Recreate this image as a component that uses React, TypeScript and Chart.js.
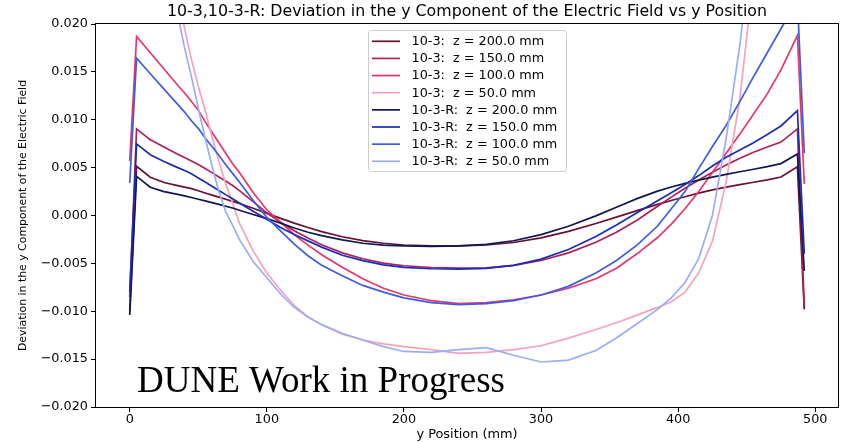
import React, { useEffect, useRef } from "react";
import { Chart, registerables } from "chart.js";

Chart.register(...registerables);

// y position along the field cage (mm)
const yPositionMm = [0, 5, 15, 25, 35, 40, 45, 50, 55, 60, 65, 70, 75, 80, 90, 100, 110, 120, 130, 140, 155, 170, 185, 200, 220, 240, 260, 280, 300, 320, 340, 355, 370, 385, 395, 405, 415, 425, 435, 445, 455, 465, 475, 487, 492];

// 10-3 series
const dev103z200 = [-0.0100, 0.00514, 0.00400, 0.00345, 0.00312, 0.00296, 0.00280, 0.00258, 0.00235, 0.00213, 0.00192, 0.00170, 0.00148, 0.00125, 0.00075, 0.00022, -0.00030, -0.00080, -0.00125, -0.00168, -0.00222, -0.00262, -0.00290, -0.00308, -0.00318, -0.00318, -0.00308, -0.00282, -0.00234, -0.00166, -0.00084, -0.00017, 0.00051, 0.00116, 0.00157, 0.00196, 0.00233, 0.00267, 0.00297, 0.00323, 0.00347, 0.00372, 0.00402, 0.00510, -0.0098];
const dev103z150 = [-0.0085, 0.00905, 0.00790, 0.00715, 0.00640, 0.00605, 0.00570, 0.00532, 0.00490, 0.00448, 0.00403, 0.00360, 0.00313, 0.00260, 0.00145, 0.00028, -0.00070, -0.00160, -0.00235, -0.00305, -0.00390, -0.00452, -0.00497, -0.00525, -0.00543, -0.00550, -0.00546, -0.00520, -0.00470, -0.00390, -0.00280, -0.00175, -0.00050, 0.00097, 0.00192, 0.00284, 0.00370, 0.00452, 0.00528, 0.00598, 0.00660, 0.00715, 0.00767, 0.00905, -0.0095];
const dev103z100 = [0.0057, 0.0187, 0.0170, 0.0153, 0.0136, 0.0128, 0.0119, 0.0110, 0.0098, 0.0087, 0.0076, 0.0065, 0.0054, 0.0045, 0.0024, 0.0006, -0.0007, -0.0020, -0.0031, -0.0041, -0.0054, -0.0066, -0.0076, -0.0083, -0.0089, -0.0092, -0.0091, -0.0088, -0.0083, -0.0076, -0.0066, -0.0055, -0.0040, -0.0023, -0.0009, 0.0007, 0.0025, 0.0045, 0.0065, 0.0085, 0.0106, 0.0127, 0.0152, 0.0188, 0.0033];
const dev103z50 = [0.030, 0.065, 0.050, 0.036, 0.0232, 0.0195, 0.0163, 0.0135, 0.0110, 0.0082, 0.0057, 0.0033, 0.0013, -0.0008, -0.0037, -0.0060, -0.0078, -0.0094, -0.0106, -0.0114, -0.0124, -0.0130, -0.0134, -0.0137, -0.0140, -0.0144, -0.0143, -0.0140, -0.0136, -0.0128, -0.0119, -0.0112, -0.0104, -0.0096, -0.0090, -0.0080, -0.0060, -0.0027, 0.0035, 0.0122, 0.0250, 0.040, 0.055, 0.065, 0.030];

// 10-3-R series
const dev103Rz200 = [-0.0104, 0.00409, 0.00295, 0.00250, 0.00220, 0.00205, 0.00188, 0.00170, 0.00152, 0.00134, 0.00116, 0.00097, 0.00078, 0.00055, 0.00010, -0.00032, -0.00080, -0.00130, -0.00175, -0.00210, -0.00255, -0.00290, -0.00310, -0.00318, -0.00322, -0.00318, -0.00302, -0.00264, -0.00200, -0.00112, -0.00004, 0.00086, 0.00176, 0.00254, 0.00298, 0.00336, 0.00370, 0.00401, 0.00430, 0.00457, 0.00483, 0.00510, 0.00542, 0.00643, -0.0058];
const dev103Rz150 = [-0.0080, 0.00748, 0.00635, 0.00565, 0.00500, 0.00470, 0.00435, 0.00392, 0.00350, 0.00305, 0.00262, 0.00218, 0.00175, 0.00130, 0.00045, -0.00040, -0.00125, -0.00198, -0.00265, -0.00330, -0.00415, -0.00472, -0.00515, -0.00542, -0.00556, -0.00560, -0.00552, -0.00520, -0.00456, -0.00356, -0.00220, -0.00100, 0.00029, 0.00155, 0.00237, 0.00323, 0.00417, 0.00517, 0.00609, 0.00685, 0.00761, 0.00845, 0.00935, 0.01096, -0.0040];
const dev103Rz100 = [0.0034, 0.01643, 0.0148, 0.0132, 0.0116, 0.0108, 0.0099, 0.0091, 0.0081, 0.0072, 0.0063, 0.0053, 0.0044, 0.0035, 0.0016, -0.0002, -0.0016, -0.0030, -0.0042, -0.0052, -0.0063, -0.0073, -0.0080, -0.0086, -0.0091, -0.0093, -0.0092, -0.0089, -0.0083, -0.0074, -0.0060, -0.0047, -0.0031, -0.0011, 0.0007, 0.0025, 0.0049, 0.0072, 0.0094, 0.0119, 0.0145, 0.0170, 0.0195, 0.0225, 0.0065];
const dev103Rz50 = [0.030, 0.065, 0.048, 0.033, 0.021, 0.0175, 0.0145, 0.0112, 0.0081, 0.0052, 0.0025, 0.0004, -0.0010, -0.0025, -0.0048, -0.0065, -0.0082, -0.0096, -0.0106, -0.0114, -0.0123, -0.0130, -0.0137, -0.0142, -0.0143, -0.0140, -0.0138, -0.0146, -0.0153, -0.0151, -0.0141, -0.0128, -0.0113, -0.0098, -0.0086, -0.0070, -0.0045, 0.0000, 0.0080, 0.0178, 0.030, 0.045, 0.058, 0.065, 0.030];

const seriesLabels = [
  "10-3:  z = 200.0 mm",
  "10-3:  z = 150.0 mm",
  "10-3:  z = 100.0 mm",
  "10-3:  z = 50.0 mm",
  "10-3-R:  z = 200.0 mm",
  "10-3-R:  z = 150.0 mm",
  "10-3-R:  z = 100.0 mm",
  "10-3-R:  z = 50.0 mm",
];
const seriesColors = ["#6b1034", "#b01e5c", "#ea346c", "#f6a2ba", "#0f1852", "#1b2cb4", "#3e5ce0", "#9badf6"];

const xTickValues = [0, 100, 200, 300, 400, 500];
const yTickValues = [-0.02, -0.015, -0.01, -0.005, 0, 0.005, 0.01, 0.015, 0.02];

const titleText = "10-3,10-3-R: Deviation in the y Component of the Electric Field vs y Position";
const xAxisTitle = "y Position (mm)";
const yAxisTitle = "Deviation in the y Component of the Electric Field";
const watermarkText = "DUNE Work in Progress";

const W = 844;
const H = 442;
const SANS = '"DejaVu Sans", "Liberation Sans", sans-serif';
const SERIF = '"Liberation Serif", "Times New Roman", serif';

export default function App() {
  const ref = useRef<HTMLCanvasElement>(null);

  useEffect(() => {
    const canvas = ref.current;
    if (!canvas) return;
    const series = [dev103z200, dev103z150, dev103z100, dev103z50, dev103Rz200, dev103Rz150, dev103Rz100, dev103Rz50];

    const overlay = {
      id: "overlay",
      afterDatasetsDraw(chart: any) {
        const { ctx, chartArea: a } = chart;
        ctx.save();
        ctx.strokeStyle = "#000";
        ctx.lineWidth = 1;
        const l = Math.round(a.left) - 0.5;
        const t = Math.round(a.top) - 0.5;
        const r = Math.round(a.right) + 0.5;
        const b = Math.round(a.bottom) + 0.5;
        ctx.strokeRect(l, t, r - l, b - t);
        ctx.restore();
      },
      afterDraw(chart: any) {
        const { ctx, chartArea: a } = chart;
        ctx.save();
        // title
        ctx.fillStyle = "#000";
        ctx.font = `15.8px ${SANS}`;
        ctx.textAlign = "center";
        ctx.textBaseline = "middle";
        ctx.fillText(titleText, (a.left + a.right) / 2, 12);

        // watermark
        ctx.font = `37px ${SERIF}`;
        ctx.textAlign = "left";
        ctx.textBaseline = "alphabetic";
        ctx.fillText(watermarkText, 137, 392);

        // legend
        const bx = 368.5, by = 30.5, bw = 198, bh = 141;
        ctx.beginPath();
        if ((ctx as any).roundRect) (ctx as any).roundRect(bx, by, bw, bh, 3);
        else ctx.rect(bx, by, bw, bh);
        ctx.fillStyle = "rgba(255,255,255,0.8)";
        ctx.fill();
        ctx.strokeStyle = "#cccccc";
        ctx.lineWidth = 1;
        ctx.stroke();
        ctx.font = `12.8px ${SANS}`;
        ctx.textBaseline = "middle";
        ctx.textAlign = "left";
        for (let i = 0; i < seriesLabels.length; i++) {
          const yc = 41.3 + i * 17.14;
          ctx.strokeStyle = seriesColors[i];
          ctx.lineWidth = 1.7;
          ctx.beginPath();
          ctx.moveTo(372, yc);
          ctx.lineTo(400, yc);
          ctx.stroke();
          ctx.fillStyle = "#000";
          ctx.fillText(seriesLabels[i], 411.5, yc + 0.5);
        }
        ctx.restore();
      },
    };

    const chart = new Chart(canvas, {
      type: "line",
      data: {
        datasets: series.map((vals, i) => ({
          label: seriesLabels[i],
          data: yPositionMm.map((x, j) => ({ x, y: vals[j] })),
          borderColor: seriesColors[i],
          backgroundColor: seriesColors[i],
          borderWidth: 1.7,
          pointRadius: 0,
          pointHoverRadius: 0,
          fill: false,
          tension: 0,
          order: series.length - 1 - i,
        })),
      },
      options: {
        animation: false,
        responsive: false,
        devicePixelRatio: 1,
        events: [],
        layout: { padding: { left: 0, right: 6, top: 24, bottom: 0 } },
        plugins: {
          legend: { display: false },
          title: { display: false },
          tooltip: { enabled: false },
        },
        scales: {
          x: {
            type: "linear",
            min: -24.6,
            max: 516.6,
            afterBuildTicks: (s: any) => {
              s.ticks = xTickValues.map((value) => ({ value }));
            },
            afterFit: (s: any) => {
              s.height = 35;
            },
            grid: { drawOnChartArea: false, drawTicks: true, tickLength: 5, tickColor: "#000", tickWidth: 1 },
            border: { display: false },
            ticks: {
              color: "#000",
              font: { family: SANS, size: 12.8 },
              padding: 0,
              maxRotation: 0,
              autoSkip: false,
              callback: (v: any) => String(v),
            },
            title: {
              display: true,
              text: xAxisTitle,
              color: "#000",
              font: { family: SANS, size: 12.9 },
              padding: { top: 0, bottom: 0 },
            },
          },
          y: {
            type: "linear",
            min: -0.02,
            max: 0.02,
            afterBuildTicks: (s: any) => {
              s.ticks = yTickValues.map((value) => ({ value }));
            },
            afterFit: (s: any) => {
              s.width = 96;
            },
            grid: { drawOnChartArea: false, drawTicks: true, tickLength: 5, tickColor: "#000", tickWidth: 1 },
            border: { display: false },
            ticks: {
              color: "#000",
              font: { family: SANS, size: 12.8 },
              padding: 3,
              autoSkip: false,
              callback: (v: any) => {
                const n = Number(v);
                const s = Math.abs(n).toFixed(3);
                return n < -1e-9 ? "\u2212" + s : s;
              },
            },
            title: {
              display: true,
              text: yAxisTitle,
              color: "#000",
              font: { family: SANS, size: 10.9 },
              padding: { top: 17, bottom: 0 },
            },
          },
        },
      },
      plugins: [overlay],
    } as any);

    return () => chart.destroy();
  }, []);

  return (
    <div style={{ position: "fixed", left: 0, top: 0, width: W, height: H, background: "#fff" }}>
      <canvas ref={ref} width={W} height={H} style={{ display: "block", width: W, height: H }} />
    </div>
  );
}
